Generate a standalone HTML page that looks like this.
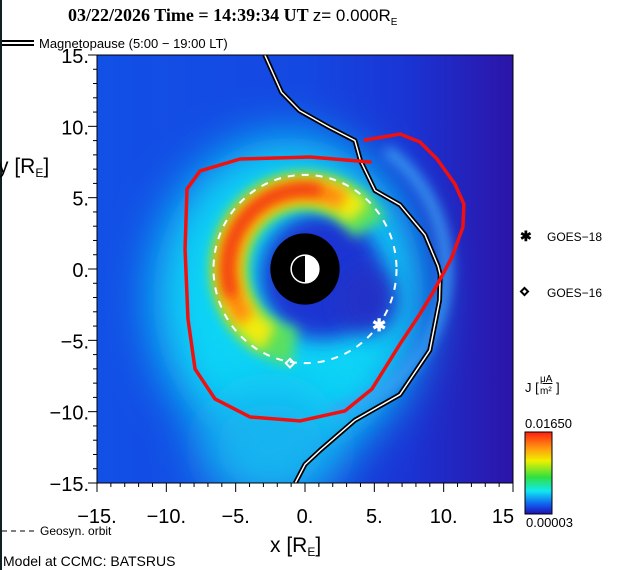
<!DOCTYPE html>
<html><head><meta charset="utf-8"><style>
html,body{margin:0;padding:0;background:#fff;}
svg{display:block;font-family:"Liberation Sans",sans-serif;}
</style></head><body>
<svg id="chart" width="620" height="570" viewBox="0 0 620 570" xmlns="http://www.w3.org/2000/svg">
<defs>
<linearGradient id="bg" x1="0" y1="0" x2="1" y2="0">
<stop offset="0" stop-color="#1250e6"/><stop offset="0.5" stop-color="#1448e2"/><stop offset="0.75" stop-color="#1a34d4"/><stop offset="1" stop-color="#2c14a8"/>
</linearGradient>
<linearGradient id="cbar" x1="0" y1="0" x2="0" y2="1">
<stop offset="0" stop-color="#ff2010"/><stop offset="0.2" stop-color="#ff9a10"/><stop offset="0.35" stop-color="#f0f000"/><stop offset="0.55" stop-color="#30e040"/><stop offset="0.72" stop-color="#10e8f0"/><stop offset="0.88" stop-color="#1060f0"/><stop offset="1" stop-color="#2010b0"/>
</linearGradient>
<filter id="b30" x="-50%" y="-50%" width="200%" height="200%"><feGaussianBlur stdDeviation="24"/></filter>
<filter id="b12" x="-50%" y="-50%" width="200%" height="200%"><feGaussianBlur stdDeviation="10"/></filter>
<filter id="b7" x="-50%" y="-50%" width="200%" height="200%"><feGaussianBlur stdDeviation="6"/></filter>
<clipPath id="plotclip"><rect x="97" y="55" width="416" height="428"/></clipPath>
</defs>

<text x="68" y="21" font-family="'Liberation Serif',serif" font-weight="bold" font-size="18">03/22/2026 Time = 14:39:34 UT <tspan font-family="'Liberation Sans',sans-serif" font-weight="normal" font-size="17">z= 0.000R</tspan><tspan font-weight="normal" font-family="'Liberation Sans',sans-serif" font-size="10" dy="4">E</tspan></text>

<g>
<line x1="2" y1="41" x2="34" y2="41" stroke="#000" stroke-width="2"/>
<line x1="2" y1="45" x2="34" y2="45" stroke="#000" stroke-width="2"/>
<text x="39" y="48" font-size="13">Magnetopause (5:00 − 19:00 LT)</text>
</g>
<rect x="0" y="0" width="2" height="570" fill="#102020"/>

<g id="plot" clip-path="url(#plotclip)">
<rect x="97" y="55" width="416" height="428" fill="url(#bg)"/>
<g id="heat"></g>
<g id="lines"></g>
</g>
<rect x="97" y="55" width="416" height="428" fill="none" stroke="#000" stroke-width="1"/>
<g id="axes"></g>

<text x="-2" y="173" font-size="21">y [R<tspan font-size="12" dy="4">E</tspan><tspan dy="-4">]</tspan></text>
<text x="270" y="552" font-size="21">x [R<tspan font-size="12" dy="4">E</tspan><tspan dy="-4">]</tspan></text>

<g>
<line x1="2" y1="531" x2="36" y2="531" stroke="#000" stroke-width="1" stroke-dasharray="5,4"/>
<text x="40" y="535" font-size="12">Geosyn. orbit</text>
</g>
<text x="3" y="566" font-size="14">Model at CCMC: BATSRUS</text>

<g>
<text x="520" y="241" font-size="14" font-weight="bold">✱</text>
<text x="547" y="241" font-size="12">GOES−18</text>
</g>
<g>
<rect x="522" y="289" width="5" height="5" fill="none" stroke="#000" stroke-width="2" transform="rotate(45 524.5 291.5)"/>
<text x="547" y="297" font-size="12">GOES−16</text>
</g>
<g>
<text x="525" y="392" font-size="13">J [</text>
<text x="540" y="382" font-size="10" text-decoration="underline">μA</text>
<text x="540" y="394" font-size="10">m²</text>
<text x="556" y="392" font-size="13">]</text>
</g>
<text x="525" y="428" font-size="13">0.01650</text>
<rect x="525" y="432" width="27" height="82" fill="url(#cbar)" stroke="#000" stroke-width="1"/>
<text x="526" y="527" font-size="13">0.00003</text>

<script>
// ---- data (R_E units) ----
const xTicks = [-15, -10, -5, 0, 5, 10, 15];
const xTickLabels = ["−15.", "−10.", "−5.", "0.", "5.", "10.", "15"];
const yTicks = [15, 10, 5, 0, -5, -10, -15];
const yTickLabels = ["15.", "10.", "5.", "0.", "−5.", "−10.", "−15."];
const mpX = [-2.9, -1.7, -0.4, 1.8, 3.6, 4.0, 5.05, 6.85, 8.65, 9.6, 9.75, 9.7, 9.0, 6.85, 3.6, 1.1, 0.0, -0.7];
const mpY = [15.0, 12.4, 11.1, 9.9, 9.0, 7.6, 5.5, 4.5, 2.4, 0.2, -0.4, -2.2, -5.7, -8.8, -10.6, -12.7, -13.7, -15.0];
const redX = [4.33, 6.85, 8.29, 9.52, 10.81, 11.46, 11.39, 10.60, 9.95, 9.16, 8.29, 6.85, 4.83, 2.88, -0.36, -3.97, -6.49, -7.93, -8.44, -8.65, -8.51, -7.57, -4.69, 0.36, 4.69];
const redY = [9.04, 9.46, 8.90, 7.71, 5.96, 4.55, 2.94, 0.84, -0.35, -1.75, -3.15, -5.26, -8.41, -9.95, -10.65, -10.37, -9.11, -7.01, -3.50, 1.40, 5.61, 6.87, 7.71, 7.85, 7.50];
const geoRadius = [6.6];
const goes18 = [5.26, -3.92];
const goes16 = [-1.08, -6.6];
const earthRadius = [1.0];
const innerBoundary = [2.5];

// ---- axis functions ----
const X0 = 97, X1 = 513, Y0 = 483, Y1 = 55;
const sx = v => X0 + (v + 15) / 30 * (X1 - X0);
const sy = v => Y0 - (v + 15) / 30 * (Y0 - Y1);
const kx = (X1 - X0) / 30, ky = (Y0 - Y1) / 30;
const NS = "http://www.w3.org/2000/svg";
function mk(tag, attrs, parent) {
  const e = document.createElementNS(NS, tag);
  for (const k in attrs) e.setAttribute(k, attrs[k]);
  parent.appendChild(e);
  return e;
}
const cx = sx(0), cy = sy(0);
function arcPath(r, a1, a2) {
  const p1 = [cx + r * kx * Math.cos(a1 * Math.PI / 180), cy - r * ky * Math.sin(a1 * Math.PI / 180)];
  const p2 = [cx + r * kx * Math.cos(a2 * Math.PI / 180), cy - r * ky * Math.sin(a2 * Math.PI / 180)];
  const large = (a2 - a1) > 180 ? 1 : 0;
  return `M${p1[0]},${p1[1]} A${r * kx},${r * ky} 0 ${large} 0 ${p2[0]},${p2[1]}`;
}

// ---- heatmap approximation ----
const heat = document.getElementById('heat');
let e;
e = mk('ellipse', {cx: sx(-1.2), cy: sy(-2), rx: 135, ry: 160, fill: '#10d4f6', filter: 'url(#b30)'}, heat);


e = mk('ellipse', {cx: sx(-2.5), cy: sy(-12.5), rx: 70, ry: 60, fill: '#14b4f0', filter: 'url(#b30)'}, heat);


e = mk('path', {d: arcPath(10.2, -80, 55), fill: 'none', stroke: '#3aa0f4', 'stroke-width': 10, filter: 'url(#b7)'}, heat);


e = mk('ellipse', {cx: sx(1.2), cy: sy(-0.5), rx: 62, ry: 64, fill: '#1c34d2', filter: 'url(#b12)'}, heat);


e = mk('ellipse', {cx: sx(4.5), cy: sy(-2.2), rx: 30, ry: 34, fill: '#2030c8', filter: 'url(#b12)'}, heat);


e = mk('path', {d: arcPath(5.5, 32, 262), fill: 'none', stroke: '#58e060', 'stroke-width': 38, filter: 'url(#b7)'}, heat);


e = mk('path', {d: arcPath(5.5, 45, 242), fill: 'none', stroke: '#f0ec10', 'stroke-width': 28, filter: 'url(#b7)'}, heat);


e = mk('path', {d: arcPath(5.5, 60, 220), fill: 'none', stroke: '#ff8c10', 'stroke-width': 20, filter: 'url(#b7)'}, heat);


e = mk('path', {d: arcPath(5.6, 78, 200), fill: 'none', stroke: '#f02c10', 'stroke-width': 11, filter: 'url(#b7)'}, heat);



// ---- lines & markers ----
const lines = document.getElementById('lines');
const mpPts = mpX.map((v, i) => sx(v) + ',' + sy(mpY[i])).join(' ');
e = mk('polyline', {points: mpPts, fill: 'none', stroke: '#000', 'stroke-width': 5, 'stroke-linejoin': 'round'}, lines);


mk('polyline', {points: mpPts, fill: 'none', stroke: '#fff', 'stroke-width': 1.5, 'stroke-linejoin': 'round'}, lines);

e = mk('ellipse', {cx: cx, cy: cy, rx: geoRadius[0] * kx, ry: geoRadius[0] * ky, fill: 'none', stroke: '#fff', 'stroke-width': 2, 'stroke-dasharray': '7,7'}, lines);



e = mk('polyline', {points: redX.map((v, i) => sx(v) + ',' + sy(redY[i])).join(' '), fill: 'none', stroke: '#f01010', 'stroke-width': 3.5, 'stroke-linejoin': 'round', 'stroke-linecap': 'round'}, lines);



e = mk('ellipse', {cx: cx, cy: cy, rx: innerBoundary[0] * kx, ry: innerBoundary[0] * ky, fill: '#000'}, lines);


const er = earthRadius[0] * kx;
e = mk('circle', {cx: cx, cy: cy, r: er, fill: '#000', stroke: '#fff', 'stroke-width': 1.5}, lines);


mk('path', {d: `M${cx},${cy - er} A${er},${er} 0 0 1 ${cx},${cy + er} Z`, fill: '#fff'}, lines);

const g18x = sx(goes18[0]), g18y = sy(goes18[1]);
e = mk('text', {x: g18x - 6, y: g18y + 6, fill: '#fff', 'font-size': 17, 'font-weight': 'bold'}, lines);
e.textContent = '✱';


const g16x = sx(goes16[0]), g16y = sy(goes16[1]);
e = mk('rect', {x: g16x - 3, y: g16y - 3, width: 6, height: 6, fill: 'none', stroke: '#fff', 'stroke-width': 2, transform: `rotate(45 ${g16x} ${g16y})`}, lines);



// ---- axes ----
const axes = document.getElementById('axes');
for (let v = -15; v <= 15; v++) {
  const major = v % 5 === 0;
  mk('line', {x1: sx(v), y1: Y0, x2: sx(v), y2: Y0 + (major ? 9 : 4), stroke: '#000', 'stroke-width': 1}, axes);
  mk('line', {x1: X0, y1: sy(v), x2: X0 - (major ? 9 : 4), y2: sy(v), stroke: '#000', 'stroke-width': 1}, axes);
}
xTicks.forEach((v, i) => {
  const t = mk('text', {x: sx(v) + (i === xTicks.length - 1 ? -10 : 0), y: 523, 'font-size': 20, 'text-anchor': 'middle'}, axes);
  t.textContent = xTickLabels[i];
  
  
});
yTicks.forEach((v, i) => {
  const t = mk('text', {x: 89, y: sy(v) + 8, 'font-size': 20, 'text-anchor': 'end'}, axes);
  t.textContent = yTickLabels[i];
  
  
});
</script>
</svg>
</body></html>
